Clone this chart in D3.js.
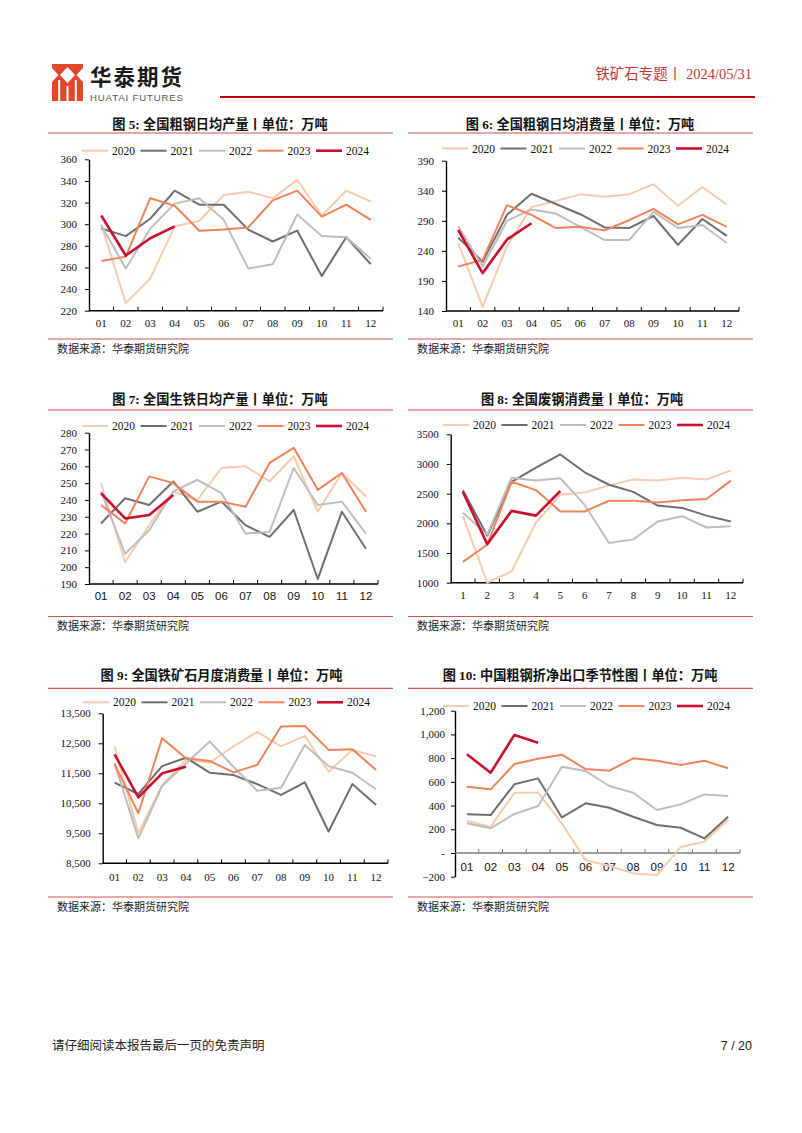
<!DOCTYPE html>
<html><head><meta charset="utf-8">
<script src="https://cdn.jsdelivr.net/npm/d3@7"></script>
<style>html,body{margin:0;padding:0;background:#fff;} svg{display:block}</style>
</head><body>
<svg id="c" width="802" height="1133"></svg>
<script>
// ---------- data ----------
const months = ["01","02","03","04","05","06","07","08","09","10","11","12"];
const monthsNum = ["1","2","3","4","5","6","7","8","9","10","11","12"];
const years = ["2020","2021","2022","2023","2024"];

// 图5 全国粗钢日均产量
const steelOut2020 = [300, 227, 250, 298, 303, 327, 330, 324, 341, 308, 331, 321];
const steelOut2021 = [296, 289, 305, 331, 318, 318, 295, 284, 294, 252, 288, 263];
const steelOut2022 = [299, 259, 296, 319, 324, 304, 259, 263, 309, 289, 288, 268];
const steelOut2023 = [266, 270, 324, 317, 294, 295, 297, 322, 331, 307, 318, 304];
const steelOut2024 = [308, 271, 287, 298];
const steelOutTicks = [220, 240, 260, 280, 300, 320, 340, 360];

// 图6 全国粗钢日均消费量
const steelUse2020 = [253, 147, 248, 313, 323, 334, 330, 334, 351, 315, 346, 317];
const steelUse2021 = [262, 222, 300, 335, 318, 301, 279, 278, 298, 250, 293, 265];
const steelUse2022 = [281, 214, 290, 309, 302, 280, 258, 258, 305, 278, 283, 253];
const steelUse2023 = [214, 225, 316, 300, 278, 280, 274, 291, 310, 284, 300, 280];
const steelUse2024 = [275, 203, 259, 286];
const steelUseTicks = [140, 190, 240, 290, 340, 390];

// 图7 全国生铁日均产量
const iron2020 = [250, 203, 225, 245, 240, 259, 260, 251, 266, 233, 256, 242];
const iron2021 = [226, 241, 237, 251, 233, 239, 225, 218, 234, 193, 233, 211];
const iron2022 = [245, 208, 222, 245, 252, 244, 220, 221, 259, 237, 239, 220];
const iron2023 = [237, 226, 254, 250, 239, 239, 236, 262, 271, 246, 256, 233];
const iron2024 = [244, 229, 231, 243];
const ironTicks = [190, 200, 210, 220, 230, 240, 250, 260, 270, 280];

// 图8 全国废钢消费量
const scrap2020 = [2120, 1000, 1190, 2010, 2480, 2520, 2640, 2740, 2720, 2770, 2740, 2890];
const scrap2021 = [2560, 1790, 2700, 2940, 3160, 2860, 2650, 2530, 2300, 2260, 2130, 2030];
const scrap2022 = [2180, 1810, 2770, 2720, 2760, 2310, 1670, 1730, 2030, 2120, 1930, 1950];
const scrap2023 = [1350, 1640, 2700, 2560, 2200, 2200, 2380, 2380, 2350, 2390, 2410, 2720];
const scrap2024 = [2530, 1650, 2210, 2130, 2545];
const scrapTicks = [1000, 1500, 2000, 2500, 3000, 3500];

// 图9 全国铁矿石月度消费量
const ore2020 = [12400, 9500, 11100, 11950, 11850, 12400, 12880, 12400, 12750, 11550, 12280, 12060];
const ore2021 = [11190, 10810, 11740, 12020, 11520, 11440, 11140, 10780, 11200, 9560, 11140, 10440];
const ore2022 = [11830, 9330, 11080, 11830, 12560, 11720, 10920, 11020, 12440, 11740, 11520, 10970];
const ore2023 = [11810, 10170, 12670, 12000, 11910, 11530, 11780, 13060, 13080, 12280, 12300, 11610];
const ore2024 = [12130, 10700, 11500, 11720];
const oreTicks = [8500, 9500, 10500, 11500, 12500, 13500];

// 图10 中国粗钢折净出口
const export2020 = [270, 220, 508, 508, 250, -60, -110, -172, -186, 50, 95, 280];
const export2021 = [326, 320, 579, 629, 300, 419, 382, 306, 236, 213, 123, 306];
const export2022 = [250, 208, 329, 396, 728, 691, 565, 508, 362, 410, 494, 480];
const export2023 = [559, 537, 750, 795, 829, 708, 694, 798, 778, 742, 778, 714];
const export2024 = [832, 677, 995, 930];
const exportTicks = [-200, 0, 200, 400, 600, 800, 1000, 1200];

const yearColors = ["#F8CBAD", "#6E6E6E", "#BDBDBD", "#F0835A", "#C8102E"];
const yearWidths = [2, 2, 2, 2, 2.6];

// ---------- drawing ----------
const svg = d3.select("#c");
const SERIF = "'Liberation Serif','Times New Roman','Noto Sans CJK SC',serif";
const CJK = "'Noto Sans CJK SC','Noto Sans',sans-serif";
const SANS = "'Liberation Sans',Arial,sans-serif";
const RULE = "#C9564F";

// header
const logo = svg.append("g");
logo.append("rect").attr("x",52).attr("y",64).attr("width",31).attr("height",37).attr("fill","#E4462B");
logo.append("path").attr("fill","#fff")
  .attr("d","M67.5,67 L75,75 L67.5,83 L60,75 Z M52,68 L58.5,75 L52,82 Z M83,68 L76.5,75 L83,82 Z");
logo.append("path").attr("fill","#fff")
  .attr("d","M58.2,80 L60.2,80 L60.2,101 L58.2,101 Z M74.8,80 L76.8,80 L76.8,101 L74.8,101 Z M66.5,86 L68.5,86 L68.5,101 L66.5,101 Z");
svg.append("text").attr("x",90).attr("y",85).attr("font-family",CJK).attr("font-weight","bold")
  .attr("font-size",21.5).attr("letter-spacing",2).attr("fill","#1a1a1a").text("华泰期货");
svg.append("text").attr("x",90).attr("y",100.5).attr("font-family",SANS)
  .attr("font-size",9.6).attr("textLength",93).attr("fill","#555").text("HUATAI FUTURES");
svg.append("text").attr("x",752).attr("y",79).attr("text-anchor","end").attr("font-family",SERIF)
  .attr("font-size",14.5).attr("fill","#C0392F").text("铁矿石专题丨 2024/05/31");
svg.append("line").attr("x1",220).attr("x2",755).attr("y1",97).attr("y2",97)
  .attr("stroke","#C00000").attr("stroke-width",2);

// footer
svg.append("text").attr("x",52).attr("y",1050).attr("font-family",CJK).attr("font-size",12.5)
  .attr("fill","#222").text("请仔细阅读本报告最后一页的免责声明");
svg.append("text").attr("x",752).attr("y",1050).attr("text-anchor","end").attr("font-family",SANS).attr("font-size",12.5)
  .attr("fill","#222").text("7 / 20");

function drawChart(o){
  const g = svg.append("g");
  // title
  g.append("text").attr("x",o.titleX).attr("y",o.titleY).attr("text-anchor","middle")
    .attr("dominant-baseline","central").attr("font-family",SERIF).attr("font-weight","bold")
    .attr("font-size",13.2).attr("fill","#111").text(o.title);
  g.append("line").attr("x1",o.ruleX0).attr("x2",o.ruleX1).attr("y1",o.ruleTop).attr("y2",o.ruleTop)
    .attr("stroke",RULE).attr("stroke-width",1.2);
  g.append("line").attr("x1",o.ruleX0).attr("x2",o.ruleX1).attr("y1",o.ruleBottom).attr("y2",o.ruleBottom)
    .attr("stroke",RULE).attr("stroke-width",1.2);
  g.append("text").attr("x",o.ruleX0+9).attr("y",o.sourceY).attr("dominant-baseline","central")
    .attr("font-family",CJK).attr("font-size",11).attr("fill","#222").text("数据来源：华泰期货研究院");

  const x = d3.scaleBand().domain(o.cats).range([o.axisX, o.xRight]);
  const y = d3.scaleLinear().domain(o.yDomain).range([o.yBottom, o.yTop]);
  const cx = c => x(c) + x.bandwidth()/2;

  // y axis
  const ya = g.append("g").attr("transform",`translate(${o.axisX},0)`)
    .call(d3.axisLeft(y).tickValues(o.ticks).tickSize(4).tickSizeOuter(0).tickPadding(o.yPad||8).tickFormat(o.fmt));
  ya.select(".domain").attr("stroke","#000").attr("stroke-width",1.4);
  ya.selectAll(".tick line").attr("stroke","#000").attr("stroke-width",1);
  ya.selectAll(".tick text").attr("font-family",SERIF).attr("font-size",11).attr("fill","#111");

  // x axis
  const y0 = y(o.xAxisAt);
  const xa = d3.axisBottom(x).tickSize(0).tickPadding(0);
  const xg = g.append("g").attr("transform",`translate(0,${y0})`).call(xa);
  xg.select(".domain").remove();
  xg.selectAll(".tick text").attr("font-family",o.xFont).attr("font-size",o.xFontSize||11).attr("fill","#111")
    .attr("dy",0).attr("y",o.xLabelY - y0).attr("dominant-baseline","central");
  g.append("line").attr("x1",o.axisX).attr("x2",o.xRight).attr("y1",y0).attr("y2",y0)
    .attr("stroke",o.xAxisColor||"#000").attr("stroke-width",o.xAxisWidth||1.4);
  const bounds = o.cats.map(c => x(c)).concat([o.xRight]);
  g.selectAll(".xt").data(bounds.slice(1)).join("line")
    .attr("x1",d=>d).attr("x2",d=>d).attr("y1",y0).attr("y2",y0-4)
    .attr("stroke",o.xAxisColor||"#000").attr("stroke-width",1);

  // lines
  const line = d3.line().x((d,i)=>cx(o.cats[i])).y(d=>y(d)).curve(d3.curveLinear);
  o.series.forEach((s,i)=>{
    g.append("path").datum(s).attr("d",line).attr("fill","none")
      .attr("stroke",yearColors[i]).attr("stroke-width",yearWidths[i])
      .attr("stroke-linejoin","round").attr("stroke-linecap","butt");
  });

  // legend
  years.forEach((yr,i)=>{
    const lx = o.legendX + i*58.5;
    g.append("line").attr("x1",lx).attr("x2",lx+26).attr("y1",o.legendY).attr("y2",o.legendY)
      .attr("stroke",yearColors[i]).attr("stroke-width",yearWidths[i]);
    g.append("text").attr("x",lx+30).attr("y",o.legendY).attr("dominant-baseline","central")
      .attr("font-family",SERIF).attr("font-size",11.5).attr("fill","#111").text(yr);
  });
}

const fmtInt = d3.format("d");
const fmtComma = d3.format(",");
const fmtExport = d => d === 0 ? "-" : d3.format(",")(d);

drawChart({title:"图 5: 全国粗钢日均产量丨单位：万吨", titleX:220, titleY:124,
  ruleX0:48, ruleX1:393, ruleTop:133, ruleBottom:339, sourceY:348,
  axisX:89, xRight:383, yTop:159.3, yBottom:310.7, yDomain:[220,360], ticks:steelOutTicks, fmt:fmtInt,
  xAxisAt:220, xLabelY:323, xFont:SERIF, cats:months, legendX:82, legendY:150.7,
  series:[steelOut2020,steelOut2021,steelOut2022,steelOut2023,steelOut2024]});

drawChart({title:"图 6: 全国粗钢日均消费量丨单位：万吨", titleX:580, titleY:124,
  ruleX0:408, ruleX1:753, ruleTop:133, ruleBottom:339, sourceY:348,
  axisX:446, xRight:739, yTop:160.7, yBottom:311, yDomain:[140,390], ticks:steelUseTicks, fmt:fmtInt,
  xAxisAt:140, xLabelY:323, xFont:SERIF, cats:months, legendX:442, legendY:148.5,
  series:[steelUse2020,steelUse2021,steelUse2022,steelUse2023,steelUse2024]});

drawChart({title:"图 7: 全国生铁日均产量丨单位：万吨", titleX:220, titleY:399,
  ruleX0:48, ruleX1:393, ruleTop:410, ruleBottom:616.5, sourceY:624.5,
  axisX:89, xRight:378, yTop:432.7, yBottom:584, yDomain:[190,280], ticks:ironTicks, fmt:fmtInt,
  xAxisAt:190, xLabelY:596, xFont:SANS, xFontSize:11.5, cats:months, legendX:82, legendY:426,
  series:[iron2020,iron2021,iron2022,iron2023,iron2024]});

drawChart({title:"图 8: 全国废钢消费量丨单位：万吨", titleX:582, titleY:399,
  ruleX0:408, ruleX1:753, ruleTop:410, ruleBottom:616.5, sourceY:624.5,
  axisX:450.7, xRight:743, yTop:434.3, yBottom:582.7, yDomain:[1000,3500], ticks:scrapTicks, fmt:fmtInt,
  xAxisAt:1000, xLabelY:595, xFont:SERIF, cats:monthsNum, legendX:443, legendY:425,
  series:[scrap2020,scrap2021,scrap2022,scrap2023,scrap2024]});

drawChart({title:"图 9: 全国铁矿石月度消费量丨单位：万吨", titleX:221.5, titleY:675,
  ruleX0:48, ruleX1:393, ruleTop:688.3, ruleBottom:897, sourceY:906,
  axisX:102.7, xRight:388, yTop:713.3, yBottom:863.3, yDomain:[8500,13500], ticks:oreTicks, fmt:fmtComma,
  xAxisAt:8500, xLabelY:876.7, xFont:SERIF, cats:months, legendX:83, legendY:702.3,
  series:[ore2020,ore2021,ore2022,ore2023,ore2024]});

drawChart({title:"图 10: 中国粗钢折净出口季节性图丨单位：万吨", titleX:580, titleY:675,
  ruleX0:408, ruleX1:753, ruleTop:688.3, ruleBottom:897, sourceY:906,
  axisX:455, xRight:740, yTop:710.7, yBottom:876.7, yDomain:[-200,1200], ticks:exportTicks, fmt:fmtExport, yPad:6,
  xAxisAt:0, xLabelY:867, xFont:SANS, xFontSize:11.5, xAxisColor:"#7a7a7a", xAxisWidth:1.6,
  cats:months, legendX:443, legendY:706,
  series:[export2020,export2021,export2022,export2023,export2024]});
</script>
</body></html>
